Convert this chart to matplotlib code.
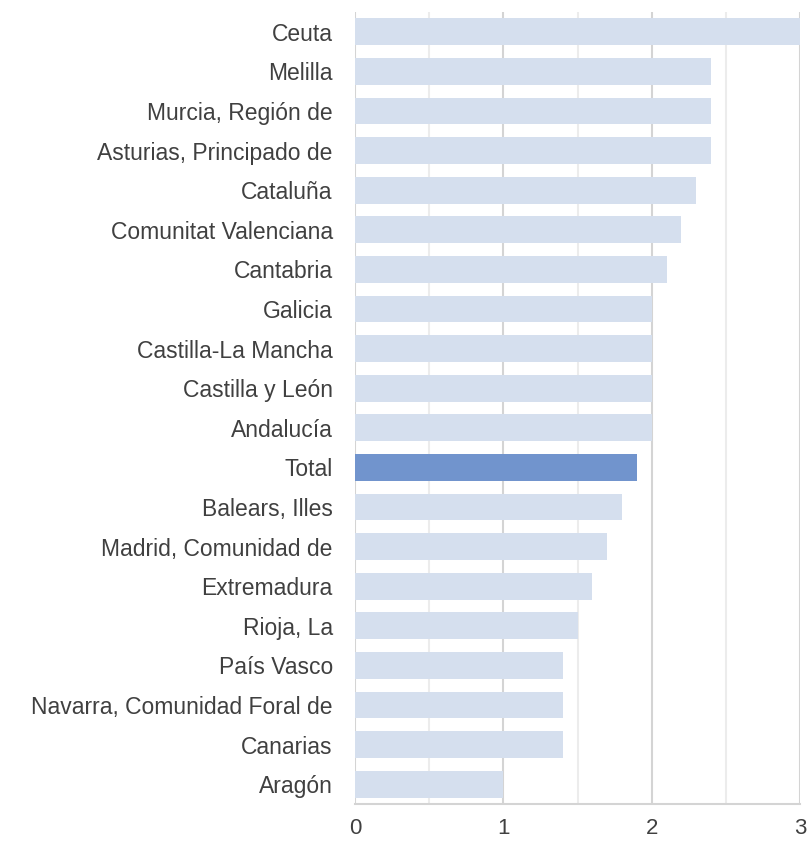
import matplotlib.pyplot as plt
from matplotlib.ticker import MultipleLocator

regions = [
    'Ceuta', 'Melilla', 'Murcia, Región de', 'Asturias, Principado de',
    'Cataluña', 'Comunitat Valenciana', 'Cantabria', 'Galicia',
    'Castilla-La Mancha', 'Castilla y León', 'Andalucía', 'Total',
    'Balears, Illes', 'Madrid, Comunidad de', 'Extremadura', 'Rioja, La',
    'País Vasco', 'Navarra, Comunidad Foral de', 'Canarias', 'Aragón',
]
values = [3.0, 2.4, 2.4, 2.4, 2.3, 2.2, 2.1, 2.0, 2.0, 2.0, 2.0, 1.9,
          1.8, 1.7, 1.6, 1.5, 1.4, 1.4, 1.4, 1.0]

plt.rcParams['font.family'] = ['Liberation Sans', 'DejaVu Sans']

fig = plt.figure(figsize=(8.09, 8.43), dpi=100)
ax = fig.add_axes([355 / 809, 39 / 843, 445 / 809, 792 / 843])

colors = ['#7194cd' if r == 'Total' else '#d5dfee' for r in regions]
pos = list(range(len(regions)))
ax.barh(pos, values, height=0.68, color=colors, zorder=3)

ax.set_xlim(0, 3)
ax.set_ylim(len(regions) - 0.5, -0.5)
ax.set_yticks(pos)
ax.set_yticklabels(regions, fontsize=16.5, color='#404040')
ax.xaxis.set_major_locator(MultipleLocator(1))
ax.xaxis.set_minor_locator(MultipleLocator(0.5))
ax.tick_params(axis='x', which='both', length=0, labelsize=16,
               labelcolor='#404040', pad=10)
ax.tick_params(axis='y', length=0, pad=16)

ax.grid(axis='x', which='major', color='#d4d4d4', linewidth=1.5, zorder=0)
ax.grid(axis='x', which='minor', color='#ececec', linewidth=1.5, zorder=0)

for side in ['top', 'right', 'left']:
    ax.spines[side].set_visible(False)
ax.spines['bottom'].set_color('#d4d4d4')
ax.spines['bottom'].set_linewidth(1.5)

fig.savefig('out.png', dpi=100)
